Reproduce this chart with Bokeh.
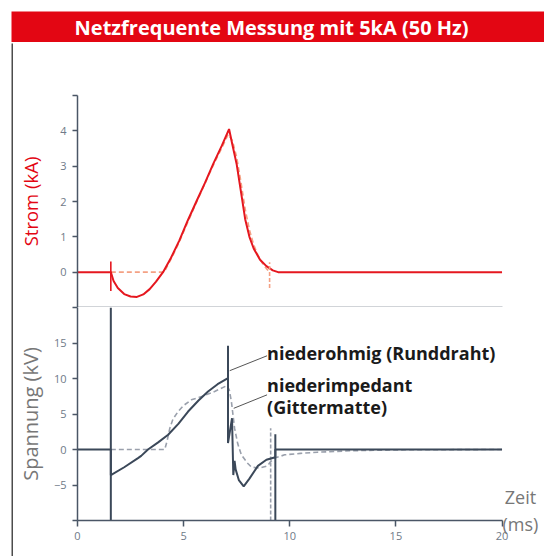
from bokeh.plotting import figure
from bokeh.layouts import column, row
from bokeh.models import FixedTicker, Label, Range1d
from bokeh.core.properties import value
from bokeh.embed import file_html
from bokeh.resources import INLINE

# ---------------- data ----------------
title_text = "Netzfrequente Messung mit 5kA (50 Hz)"
x_ticks = [0, 5, 10, 15, 20]
i_ticks = [0, 1, 2, 3, 4]          # labelled
i_ends = [-1, 5]                   # axis extent, end tick at 5 unlabelled
u_ticks = [-5, 0, 5, 10, 15]       # labelled
u_ends = [-10, 20]                 # axis extent, end ticks unlabelled

# current, low-ohmic (round wire) - solid red
t_i_rund = [0, 1.57, 1.7, 1.9, 2.2, 2.5, 2.8, 3.1, 3.4, 3.7, 4.03, 4.4, 4.8, 5.2, 5.6,
            6.0, 6.4, 6.8, 7.14, 7.3, 7.5, 7.7, 7.9, 8.1, 8.3, 8.6, 8.9, 9.2, 9.45, 20]
i_rund = [0, 0, -0.25, -0.45, -0.62, -0.69, -0.70, -0.63, -0.48, -0.27, 0, 0.40, 0.90, 1.47, 2.0,
          2.52, 3.07, 3.58, 4.05, 3.60, 3.05, 2.28, 1.50, 1.0, 0.67, 0.35, 0.17, 0.05, 0, 0]

# current, low-impedance (grid mat) - dashed salmon
t_i_gitter = [1.57, 4.08, 4.4, 4.8, 5.2, 5.6, 6.0, 6.4, 6.8, 7.1, 7.3, 7.5, 7.7, 7.9,
              8.1, 8.3, 8.5, 8.7, 8.9, 9.05]
i_gitter = [0, 0, 0.36, 0.86, 1.42, 1.97, 2.50, 3.03, 3.52, 3.90, 3.72, 3.25, 2.55, 1.78,
            1.20, 0.78, 0.48, 0.26, 0.10, 0]

# voltage, low-ohmic (round wire) - solid slate
t_u_rund = [0, 1.57, 1.57, 2.2, 2.85, 3.0, 3.32, 3.8, 4.27, 4.75, 5.21, 5.7, 6.15, 6.6, 7.09,
            7.09, 7.09, 7.28, 7.34, 7.40, 7.45, 7.6, 7.83, 8.1, 8.5, 8.9, 9.32, 9.32, 20]
u_rund = [0, 0, -3.62, -2.5, -1.22, -0.9, 0, 1.0, 2.07, 3.6, 5.35, 6.9, 8.17, 9.2, 10.04,
          14.6, 0.9, 4.4, -3.6, -1.6, -2.8, -4.3, -5.2, -4.1, -2.3, -1.45, -1.1, 0, 0]

# voltage, low-impedance (grid mat) - dashed grey
t_u_gitter = [1.57, 4.11, 4.22, 4.35, 4.5, 4.74, 5.0, 5.36, 5.84, 6.46, 7.04, 7.15, 7.25, 7.4,
              7.55, 7.72, 8.0, 8.2, 8.6, 8.95, 9.1, 9.3, 9.76, 10.5, 11.3, 12.9, 15.0, 20]
u_gitter = [0, 0, 1.2, 3.0, 4.3, 5.35, 6.2, 7.0, 7.45, 8.17, 9.0, 8.4, 6.76, 3.0,
            0.8, -0.75, -1.9, -2.5, -2.6, -2.3, -1.7, -1.2, -0.75, -0.55, -0.38, -0.18, -0.05, 0]

# trigger / cursor markers
i_mark_rund_t, i_mark_rund_lo, i_mark_rund_hi = [1.57], [-0.53], [0.30]
i_mark_gitter_t, i_mark_gitter_lo, i_mark_gitter_hi = [9.05], [-0.45], [0.28]
u_mark_rund_t, u_mark_rund_lo, u_mark_rund_hi = [1.57, 9.32], [-10, -10], [20, 2.16]
u_mark_gitter_t, u_mark_gitter_lo, u_mark_gitter_hi = [9.1], [-10], [3.0]

# annotation labels and leader lines
ann_texts = ["niederohmig (Runddraht)", "niederimpedant", "(Gittermatte)"]
ann_x = [8.93, 8.93, 8.93]
ann_y = [13.56, 9.1, 6.05]
lead_x0, lead_y0 = [7.17, 7.36], [11.1, 5.8]
lead_x1, lead_y1 = [8.93, 8.93], [13.2, 7.7]

# ---------------- style ----------------
FONT = "Open Sans"
RED = "#e30613"
REDLINE = "#e5171f"
SALMON = "#f4a184"
SLATE = "#3b4859"
GREYDASH = "#9aa0ac"
TICKC = "#6f7a88"
AXISC = "#4a5666"
LABELC = "#777777"
X_VIEW_END = 20.87          # frames end where the centred time-axis title should sit


def style_ticks(ax):
    ax.major_tick_out = 5
    ax.major_tick_in = 0
    ax.minor_tick_out = 5
    ax.minor_tick_in = 0
    ax.major_tick_line_color = AXISC
    ax.minor_tick_line_color = AXISC
    ax.major_tick_line_width = 1.5
    ax.minor_tick_line_width = 1.5
    ax.axis_line_color = AXISC
    ax.axis_line_width = 1.5
    ax.major_label_text_font = FONT
    ax.major_label_text_font_size = "11px"
    ax.major_label_text_color = TICKC


def style_y(ax, ticks, ends, label, label_color, label_size, label_standoff):
    ax.ticker = FixedTicker(ticks=ticks, minor_ticks=[e for e in ends if e not in ticks])
    ax.bounds = (ends[0], ends[-1])
    style_ticks(ax)
    ax.major_label_standoff = 6
    ax.axis_label = label
    ax.axis_label_text_font = FONT
    ax.axis_label_text_font_size = label_size
    ax.axis_label_text_font_style = "normal"
    ax.axis_label_text_color = label_color
    ax.axis_label_standoff = label_standoff


def blank(width, height, left, top, color):
    return figure(width=width, height=height, x_range=(0, 1), y_range=(0, 1), x_axis_type=None,
                  y_axis_type=None, output_backend="svg", toolbar_location=None,
                  min_border_left=left, min_border_top=top, min_border_right=0,
                  min_border_bottom=0, background_fill_color=color,
                  border_fill_color="white", outline_line_color=None)


# title bar
pt = blank(544, 42, 11, 11, RED)
pt.text(x=[0.488], y=[0.5], text=[title_text], text_align="center", text_baseline="middle",
        text_color="white", text_font=value(FONT), text_font_size="20px",
        text_font_style="bold")

# thin grey rule under the title and left border line of the box
hl = blank(544, 1, 11, 0, "#a0a0a0")
sp = blank(13, 513, 11, 0, "#4d4d4d")

xr = Range1d(0, X_VIEW_END)

# top: current
p1 = figure(width=531, height=264, x_range=xr,
            y_range=Range1d(i_ends[0], i_ends[-1]),
            output_backend="svg", toolbar_location=None, min_border_left=63,
            min_border_right=24, min_border_top=52, min_border_bottom=0,
            outline_line_color=None)
p1.grid.visible = False
p1.xaxis.ticker = FixedTicker(ticks=[])
p1.xaxis.bounds = (x_ticks[0], x_ticks[-1])
p1.xaxis.major_tick_out = 0
p1.xaxis.minor_tick_out = 0
p1.xaxis.major_label_standoff = 0
p1.xaxis.axis_line_color = AXISC
p1.xaxis.axis_line_width = 1.5
style_y(p1.yaxis[0], i_ticks, i_ends, "Strom (kA)", RED, "18.5px", 14)

p1.line(t_i_gitter, i_gitter, line_color=SALMON, line_width=1.6, line_dash="5 3")
p1.line(t_i_rund, i_rund, line_color=REDLINE, line_width=2)
p1.segment(x0=i_mark_gitter_t, y0=i_mark_gitter_lo, x1=i_mark_gitter_t, y1=i_mark_gitter_hi,
           line_color=SALMON, line_width=1.6, line_dash="4 2")
p1.segment(x0=i_mark_rund_t, y0=i_mark_rund_lo, x1=i_mark_rund_t, y1=i_mark_rund_hi,
           line_color=REDLINE, line_width=1.6)

# bottom: voltage
p2 = figure(width=531, height=249, x_range=xr,
            y_range=Range1d(u_ends[0], u_ends[-1]), output_backend="svg",
            toolbar_location=None, min_border_left=63, min_border_right=24,
            min_border_top=0, min_border_bottom=36, outline_line_color=None)
p2.grid.visible = False
xa = p2.xaxis[0]
xa.ticker = FixedTicker(ticks=x_ticks)
xa.bounds = (x_ticks[0], x_ticks[-1])
style_ticks(xa)
xa.minor_tick_line_color = None
xa.major_tick_out = 6
xa.major_label_standoff = 5

# "Zeit (ms)" as the axis title, at the right end, wrapped beside the axis line
xa.axis_label = "Zeit\n(ms)"
xa.axis_label_text_font = FONT
xa.axis_label_text_font_size = "18px"
xa.axis_label_text_font_style = "normal"
xa.axis_label_text_color = LABELC
xa.axis_label_text_line_height = 1.15
xa.axis_label_align = "end"
xa.axis_label_standoff = -58

style_y(p2.yaxis[0], u_ticks, u_ends, "Spannung (kV)", LABELC, "20px", 7)

p2.line(t_u_gitter, u_gitter, line_color=GREYDASH, line_width=1.6, line_dash="5 3")
p2.segment(x0=u_mark_gitter_t, y0=u_mark_gitter_lo, x1=u_mark_gitter_t, y1=u_mark_gitter_hi,
           line_color=GREYDASH, line_width=1.6, line_dash="4 2")
p2.line(t_u_rund, u_rund, line_color=SLATE, line_width=2)
p2.segment(x0=u_mark_rund_t, y0=u_mark_rund_lo, x1=u_mark_rund_t, y1=u_mark_rund_hi,
           line_color=SLATE, line_width=2)
p2.segment(x0=lead_x0, y0=lead_y0, x1=lead_x1, y1=lead_y1, line_color="#555555", line_width=1)

for txt, ax_, ay_ in zip(ann_texts, ann_x, ann_y):
    p2.add_layout(Label(x=ax_, y=ay_, text=txt, text_font=FONT, text_font_size="18px",
                        text_font_style="bold", text_color="#1a1a1a",
                        text_baseline="alphabetic", text_align="left"))

layout = column(pt, hl, row(sp, column(p1, p2)))

open("out.html", "w").write(file_html(layout, INLINE))
